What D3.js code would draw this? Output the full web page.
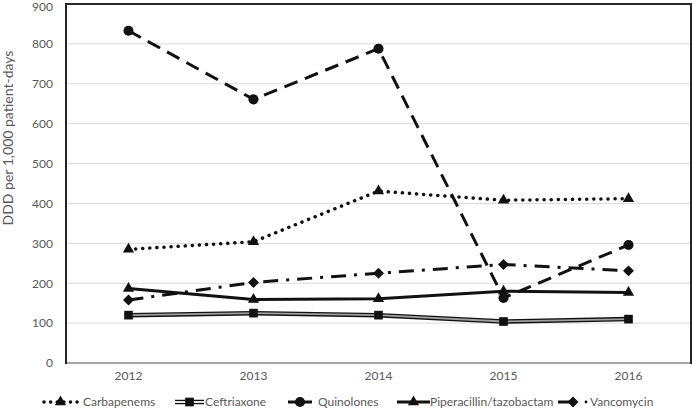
<!DOCTYPE html>
<html>
<head>
<meta charset="utf-8">
<script src="https://cdn.jsdelivr.net/npm/d3@7"></script>
<style>
  body { margin: 0; background: #fff; }
  text { font-family: Lato, "Open Sans", sans-serif; fill: #595959; }
</style>
</head>
<body>
<div id="chart"></div>
<script>
const years = ["2012", "2013", "2014", "2015", "2016"];
const yTicks = [0, 100, 200, 300, 400, 500, 600, 700, 800, 900];
const carbapenems = [285, 304, 431, 408, 412];
const ceftriaxone = [120, 125, 120, 104, 110];
const quinolones = [833, 661, 788, 163, 296];
const piperacillin = [187, 159, 161, 180, 177];
const vancomycin = [158, 202, 225, 247, 231];

const width = 692, height = 410;
const margin = { top: 4, right: 1, bottom: 47, left: 66 };

const svg = d3.select("#chart").append("svg")
  .attr("width", width).attr("height", height);

const x = d3.scaleBand().domain(years).range([margin.left, width - margin.right]);
const y = d3.scaleLinear().domain([0, 900]).range([height - margin.bottom, margin.top]);
const cx = d => x(d) + x.bandwidth() / 2;

// gridlines
svg.append("g").selectAll("line").data(yTicks.slice(1)).enter().append("line")
  .attr("x1", margin.left).attr("x2", width - margin.right)
  .attr("y1", d => y(d)).attr("y2", d => y(d))
  .attr("stroke", "#d9d9d9").attr("stroke-width", 1);

// plot frame
svg.append("rect")
  .attr("x", margin.left).attr("y", margin.top)
  .attr("width", width - margin.right - margin.left)
  .attr("height", y(0) - margin.top)
  .attr("fill", "none").attr("stroke", "#262626").attr("stroke-width", 2);
svg.append("line")
  .attr("x1", margin.left + 1).attr("x2", width - margin.right - 1)
  .attr("y1", y(0)).attr("y2", y(0))
  .attr("stroke", "#a6a6a6").attr("stroke-width", 2);

// y axis labels
const yAxis = svg.append("g")
  .attr("transform", "translate(" + (margin.left - 13) + ",0)")
  .call(d3.axisLeft(y).tickValues(yTicks).tickSize(0).tickPadding(0));
yAxis.select(".domain").remove();
yAxis.selectAll("text").style("font-size", "12px").style("font-family", "Lato").attr("fill", "#595959")
  .attr("dy", d => d === 900 ? "0.55em" : "0.32em");

// x axis labels
const xAxis = svg.append("g")
  .attr("transform", "translate(0," + (y(0) + 8) + ")")
  .call(d3.axisBottom(x).tickSize(0).tickPadding(0));
xAxis.select(".domain").remove();
xAxis.selectAll("text").style("font-size", "12px").style("font-family", "Lato").attr("fill", "#595959");

svg.append("text")
  .attr("transform", "translate(13,138) rotate(-90)")
  .attr("text-anchor", "middle")
  .style("font-size", "14px")
  .text("DDD per 1,000 patient-days");

const line = d3.line().x((d, i) => cx(years[i])).y(d => y(d));

const series = [
  { name: "Carbapenems", values: carbapenems, marker: "triangle", style: "dot" },
  { name: "Ceftriaxone", values: ceftriaxone, marker: "square", style: "double" },
  { name: "Quinolones", values: quinolones, marker: "circle", style: "dash" },
  { name: "Piperacillin/tazobactam", values: piperacillin, marker: "triangle", style: "solid" },
  { name: "Vancomycin", values: vancomycin, marker: "diamond", style: "dashdot" }
];

function strokeFor(sel, style) {
  if (style === "dot") {
    sel.attr("stroke", "#111").attr("stroke-width", 3.5).attr("stroke-linecap", "round").attr("stroke-dasharray", "0.1 7");
  } else if (style === "dash") {
    sel.attr("stroke", "#111").attr("stroke-width", 3).attr("stroke-dasharray", "14 8");
  } else if (style === "dashdot") {
    sel.attr("stroke", "#111").attr("stroke-width", 3).attr("stroke-dasharray", "15 8 3 8");
  } else {
    sel.attr("stroke", "#111").attr("stroke-width", 3);
  }
}

const symbols = {
  triangle: d3.symbol().type(d3.symbolTriangle).size(55),
  square: d3.symbol().type(d3.symbolSquare).size(75),
  circle: d3.symbol().type(d3.symbolCircle).size(80),
  diamond: d3.symbol().type(d3.symbolSquare).size(60)
};

function drawMarker(g, marker, px, py) {
  return g.append("path").attr("d", symbols[marker]()).attr("fill", "#111")
    .attr("transform", "translate(" + px + "," + py + ")" + (marker === "diamond" ? " rotate(45)" : ""));
}

series.forEach(s => {
  const g = svg.append("g");
  if (s.style === "double") {
    g.append("path").datum(s.values).attr("d", line).attr("fill", "none")
      .attr("stroke", "#111").attr("stroke-width", 4.5);
    g.append("path").datum(s.values).attr("d", line).attr("fill", "none")
      .attr("stroke", "#a0a0a0").attr("stroke-width", 1.8);
  } else {
    g.append("path").datum(s.values).attr("d", line).attr("fill", "none").call(strokeFor, s.style);
  }
  s.values.forEach((v, i) => drawMarker(g, s.marker, cx(years[i]), y(v)));
});

// legend
const legendY = 402;
const legendPos = [
  { sx: 43, ex: 78, tx: 83 },
  { sx: 175, ex: 204, tx: 205 },
  { sx: 288, ex: 312, tx: 318 },
  { sx: 397, ex: 430, tx: 430 },
  { sx: 558, ex: 580, tx: 590 }
];
series.forEach((s, i) => {
  const p = legendPos[i];
  const g = svg.append("g");
  const mid = (p.sx + p.ex) / 2;
  if (s.style === "double") {
    g.append("line").attr("x1", p.sx).attr("x2", p.ex).attr("y1", legendY).attr("y2", legendY)
      .attr("stroke", "#111").attr("stroke-width", 4.5);
    g.append("line").attr("x1", p.sx).attr("x2", p.ex).attr("y1", legendY).attr("y2", legendY)
      .attr("stroke", "#fff").attr("stroke-width", 1.8);
  } else if (s.style === "dashdot") {
    g.append("line").attr("x1", p.sx).attr("x2", mid + 2).attr("y1", legendY).attr("y2", legendY)
      .attr("stroke", "#111").attr("stroke-width", 3);
    g.append("circle").attr("cx", p.ex + 6).attr("cy", legendY).attr("r", 1.4).attr("fill", "#111");
  } else if (s.style === "dot") {
    g.append("line").attr("x1", p.sx + 1).attr("x2", p.ex).attr("y1", legendY).attr("y2", legendY)
      .attr("stroke", "#111").attr("stroke-width", 3.5).attr("stroke-linecap", "round").attr("stroke-dasharray", "0.1 6.5");
  } else {
    g.append("line").attr("x1", p.sx).attr("x2", p.ex).attr("y1", legendY).attr("y2", legendY)
      .attr("stroke", "#111").attr("stroke-width", 3);
  }
  drawMarker(g, s.marker, mid + (s.style === "dashdot" ? 4 : 0), legendY);
  g.append("text").attr("x", p.tx).attr("y", legendY).attr("dy", "0.35em")
    .style("font-size", "12px").text(s.name);
});
</script>
</body>
</html>
